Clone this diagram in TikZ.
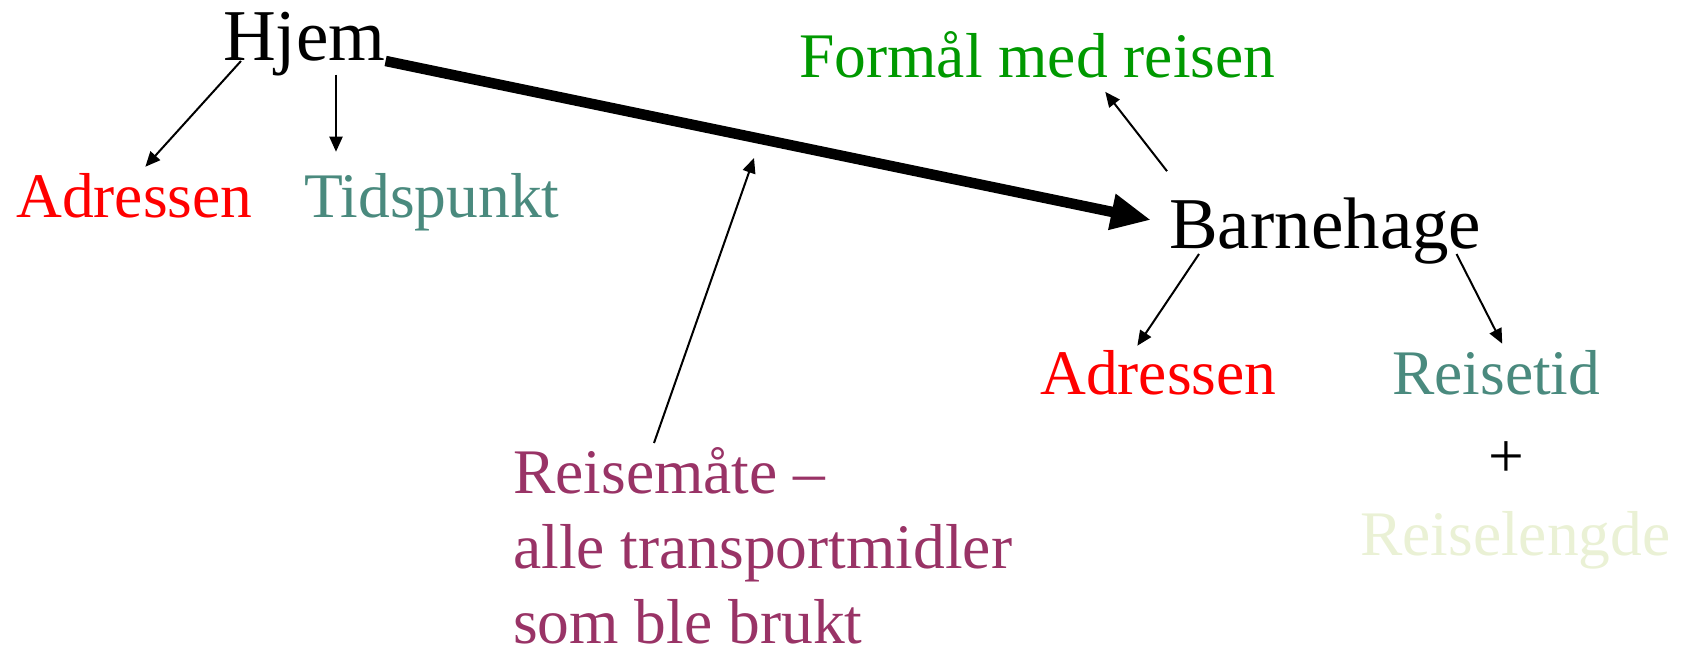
\documentclass[tikz,border=0pt]{standalone}
\usepackage{fontspec}
\setmainfont{Liberation Serif}
\usetikzlibrary{arrows.meta}
\definecolor{tealtxt}{RGB}{74,138,126}
\definecolor{greentxt}{RGB}{0,153,0}
\definecolor{plumtxt}{RGB}{153,51,102}
\definecolor{paletxt}{RGB}{234,241,213}
\tikzset{
  txt/.style={inner sep=0pt, anchor=base west, font=\fontsize{63.5}{75}\selectfont},
  placetxt/.style={txt, font=\fontsize{73}{86}\selectfont},
  thin arrow/.style={line width=2pt, -{Triangle[length=15pt,width=13pt]}},
  thick arrow/.style={line width=10.5pt, -{Triangle[length=40pt,width=34pt]}}
}
\begin{document}
\begin{tikzpicture}[x=1pt,y=-1pt]
\useasboundingbox (0,0) rectangle (1682,652);
% the two places
\node[placetxt] (hjem) at (223,61) {Hjem};
\node[placetxt] (barn) at (1169,249) {Barnehage};
% around Hjem
\node[txt, red] (adrA) at (16,218) {Adressen};
\node[txt, tealtxt] (tid) at (304,218) {Tidspunkt};
% around Barnehage
\node[txt, greentxt] (formal) at (799,78) {Formål med reisen};
\node[txt, red] (adrB) at (1040,394) {Adressen};
\node[txt, tealtxt] (reisetid) at (1392,394) {Reisetid};
\node[txt, anchor=base] (pluss) at (1506,477) {+};
\node[txt, paletxt] (lengde) at (1360,555) {Reiselengde};
% travel mode
\node[txt, plumtxt, anchor=south west, align=left] (mate) at (513,644) {Reisemåte –\\alle transportmidler\\som ble brukt};
\coordinate (mateTip) at (754,158);
% connectors
\draw[thick arrow] (hjem.base east) -- ([xshift=-18pt,yshift=29pt]barn.base west);
\draw[thin arrow] ([xshift=18pt]hjem.base west) -- ([xshift=11pt,yshift=7pt]adrA.north);
\draw[thin arrow] ([xshift=113pt,yshift=2pt]hjem.south west) -- ([xshift=32pt,yshift=22pt]tid.north west);
\draw[thin arrow] ([xshift=-2pt,yshift=27pt]barn.north west) -- ([xshift=68pt,yshift=-13pt]formal.south);
\draw[thin arrow] ([xshift=141pt,yshift=4pt]mate.north west) -- (mateTip);
\draw[thin arrow] ([xshift=30pt,yshift=-5pt]barn.base west) -- ([xshift=-21pt,yshift=4pt]adrB.north);
\draw[thin arrow] ([xshift=-25pt,yshift=-5pt]barn.base east) -- ([xshift=6pt,yshift=6pt]reisetid.north);
\end{tikzpicture}
\end{document}
